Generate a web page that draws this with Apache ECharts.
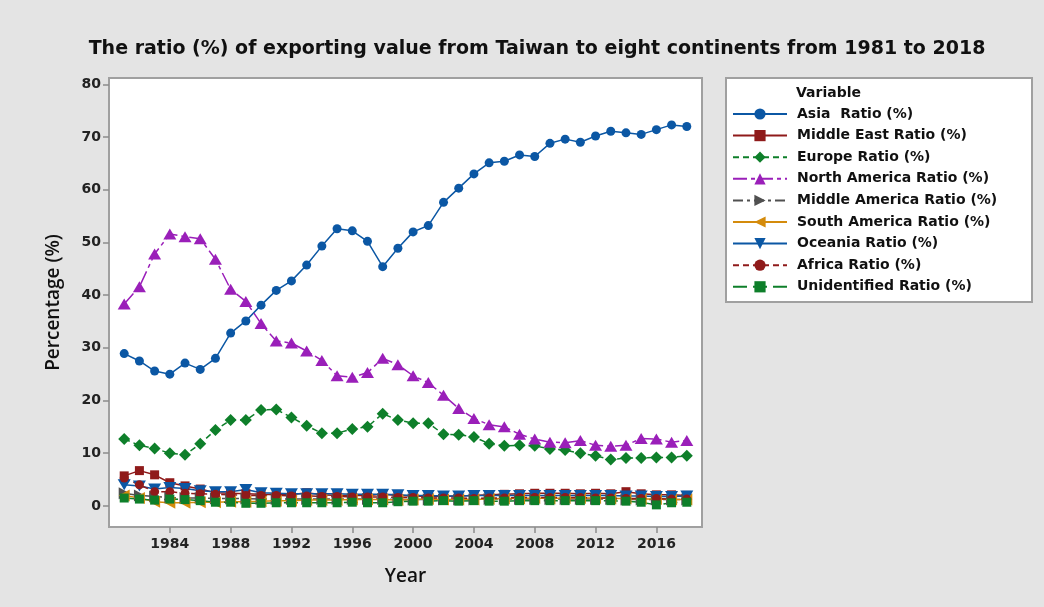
<!DOCTYPE html>
<html>
<head>
<meta charset="utf-8">
<script src="https://cdn.jsdelivr.net/npm/echarts@6/dist/echarts.min.js"></script>
<style>
  html, body { margin: 0; padding: 0; background: #e4e4e4; }
  #chart { width: 1044px; height: 607px; }
</style>
</head>
<body>
<div id="chart"></div>
<script>
const years = [1981, 1982, 1983, 1984, 1985, 1986, 1987, 1988, 1989, 1990,
  1991, 1992, 1993, 1994, 1995, 1996, 1997, 1998, 1999, 2000,
  2001, 2002, 2003, 2004, 2005, 2006, 2007, 2008, 2009, 2010,
  2011, 2012, 2013, 2014, 2015, 2016, 2017, 2018];

const asia = [28.9, 27.5, 25.6, 25.0, 27.1, 25.9, 28.0, 32.8, 35.1, 38.1,
  40.9, 42.7, 45.7, 49.3, 52.6, 52.2, 50.2, 45.4, 48.9, 52.0,
  53.2, 57.6, 60.3, 63.0, 65.1, 65.4, 66.6, 66.3, 68.8, 69.6,
  69.0, 70.2, 71.1, 70.8, 70.5, 71.4, 72.3, 72.0];
const middleEast = [5.7, 6.7, 5.9, 4.4, 3.8, 3.2, 2.5, 2.4, 2.3, 2.2,
  2.1, 2.1, 2.5, 2.1, 2.0, 2.0, 2.0, 2.2, 2.0, 1.9,
  1.8, 1.8, 1.9, 2.0, 2.1, 2.2, 2.3, 2.4, 2.4, 2.4,
  2.3, 2.4, 2.3, 2.7, 2.3, 2.1, 2.1, 2.0];
const europe = [12.7, 11.5, 10.9, 10.0, 9.7, 11.8, 14.4, 16.3, 16.3, 18.2,
  18.3, 16.8, 15.2, 13.8, 13.8, 14.6, 15.0, 17.5, 16.3, 15.7,
  15.7, 13.6, 13.5, 13.1, 11.8, 11.4, 11.5, 11.4, 10.8, 10.6,
  10.0, 9.5, 8.8, 9.1, 9.1, 9.2, 9.2, 9.5];
const northAmerica = [38.3, 41.6, 47.8, 51.6, 51.1, 50.7, 46.8, 41.1, 38.8, 34.6,
  31.3, 30.9, 29.4, 27.6, 24.7, 24.4, 25.3, 28.0, 26.8, 24.7,
  23.4, 21.0, 18.5, 16.6, 15.4, 15.0, 13.6, 12.7, 12.1, 12.0,
  12.4, 11.5, 11.3, 11.5, 12.8, 12.7, 12.1, 12.4];
const middleAmerica = [2.4, 2.0, 1.8, 1.6, 1.5, 1.5, 1.4, 1.4, 1.4, 1.3,
  1.3, 1.3, 1.3, 1.3, 1.3, 1.3, 1.3, 1.3, 1.2, 1.2,
  1.2, 1.2, 1.2, 1.2, 1.3, 1.3, 1.3, 1.3, 1.3, 1.3,
  1.3, 1.3, 1.3, 1.2, 1.2, 1.2, 1.2, 1.2];
const southAmerica = [2.0, 1.5, 0.8, 0.6, 0.6, 0.7, 0.7, 0.8, 0.8, 0.9,
  1.0, 1.0, 1.1, 1.1, 1.1, 1.2, 1.2, 1.2, 1.1, 1.2,
  1.3, 1.2, 1.2, 1.2, 1.3, 1.4, 1.4, 1.5, 1.4, 1.5,
  1.5, 1.5, 1.4, 1.4, 1.3, 1.3, 1.2, 1.2];
const oceania = [4.0, 3.8, 3.2, 3.5, 3.3, 2.9, 2.7, 2.7, 3.1, 2.5,
  2.4, 2.3, 2.3, 2.3, 2.3, 2.2, 2.2, 2.2, 2.1, 2.0,
  2.0, 1.9, 1.9, 2.0, 2.0, 2.0, 2.0, 2.0, 2.0, 2.0,
  2.0, 2.0, 2.0, 1.9, 1.9, 1.8, 1.8, 1.9];
const africa = [5.3, 4.0, 2.7, 2.7, 2.4, 2.3, 2.2, 2.1, 2.0, 2.0,
  2.0, 1.9, 1.9, 1.8, 1.8, 1.7, 1.7, 1.7, 1.6, 1.6,
  1.5, 1.5, 1.5, 1.4, 1.5, 1.5, 1.6, 1.6, 1.6, 1.6,
  1.6, 1.5, 1.5, 1.4, 1.4, 1.4, 1.3, 1.3];
const unidentified = [1.5, 1.3, 1.1, 1.3, 1.2, 1.0, 0.7, 0.7, 0.5, 0.5,
  0.6, 0.6, 0.6, 0.6, 0.6, 0.7, 0.6, 0.6, 0.8, 0.9,
  0.9, 1.0, 0.9, 1.0, 0.9, 0.9, 1.0, 1.0, 1.0, 1.0,
  1.0, 1.0, 1.0, 0.9, 0.7, 0.2, 0.6, 0.7];

const yearTicks = [1984, 1988, 1992, 1996, 2000, 2004, 2008, 2012, 2016];
const pctTicks = [0, 10, 20, 30, 40, 50, 60, 70, 80];

const FONT = '"Open Sans", "Noto Sans", sans-serif';
const WIDE = '"DejaVu Sans", sans-serif';

function pairs(values) {
  return years.map((y, i) => [y, values[i]]);
}

function makeSeries(name, values, color, symbol, size, dash) {
  return {
    name: name,
    type: 'line',
    data: pairs(values),
    symbol: symbol,
    symbolSize: size,
    showAllSymbol: true,
    animation: false,
    lineStyle: { color: color, width: 1.5, type: dash },
    itemStyle: { color: color },
    emphasis: { disabled: true }
  };
}

const RIGHT_TRI = 'path://M0,0 L10,5 L0,10 Z';
const LEFT_TRI = 'path://M10,0 L0,5 L10,10 Z';
const DOWN_TRI = 'path://M0,0 L10,0 L5,9 Z';

const series = [
  makeSeries('Asia  Ratio (%)', asia, '#0b57a4', 'circle', 9, 'solid'),
  makeSeries('Middle East Ratio (%)', middleEast, '#8f1a1a', 'rect', 9, 'solid'),
  makeSeries('Europe Ratio (%)', europe, '#0e7f2a', 'diamond', [12, 12], [6, 4]),
  makeSeries('North America Ratio (%)', northAmerica, '#9a1fb9', 'triangle', [13, 11], [14, 4, 4, 4]),
  makeSeries('Middle America Ratio (%)', middleAmerica, '#505050', RIGHT_TRI, [11, 12], [10, 4, 3, 4]),
  makeSeries('South America Ratio (%)', southAmerica, '#d48b0c', LEFT_TRI, [11, 12], 'solid'),
  makeSeries('Oceania Ratio (%)', oceania, '#0b57a4', DOWN_TRI, [13, 11], 'solid'),
  makeSeries('Africa Ratio (%)', africa, '#8f1a1a', 'circle', 9, [6, 4]),
  makeSeries('Unidentified Ratio (%)', unidentified, '#0e7f2a', 'rect', 9, [14, 6])
];

const chart = echarts.init(document.getElementById('chart'), null, { renderer: 'canvas' });
chart.setOption({
  backgroundColor: '#e4e4e4',
  animation: false,
  title: {
    text: 'The ratio (%) of exporting value from Taiwan to eight continents from 1981 to 2018',
    left: 532,
    top: 35,
    textAlign: 'center',
    textStyle: { fontFamily: WIDE, fontSize: 19, fontWeight: 'bold', color: '#111' }
  },
  grid: {
    left: 109, top: 78, right: 342, bottom: 80,
    show: true, backgroundColor: '#ffffff',
    borderColor: '#a0a0a0', borderWidth: 2
  },
  xAxis: {
    type: 'value',
    min: 1980, max: 2019,
    name: 'Year',
    nameLocation: 'middle',
    nameGap: 40,
    nameTextStyle: { fontFamily: FONT, fontSize: 19, fontWeight: 600, color: '#111' },
    axisLine: { show: false, onZero: false },
    splitLine: { show: false },
    axisTick: { show: true, length: 6, lineStyle: { color: '#8c8c8c', width: 1.5 }, customValues: yearTicks },
    axisLabel: {
      fontFamily: WIDE, fontSize: 14, fontWeight: 'bold', color: '#222', margin: 10,
      customValues: yearTicks,
      formatter: v => String(v)
    }
  },
  yAxis: {
    type: 'value',
    min: -4, max: 81.2,
    name: 'Percentage (%)',
    nameLocation: 'middle',
    nameGap: 46,
    nameRotate: 90,
    nameTextStyle: { fontFamily: FONT, fontSize: 19, fontWeight: 600, color: '#111' },
    axisLine: { show: false, onZero: false },
    splitLine: { show: false },
    axisTick: { show: true, length: 6, lineStyle: { color: '#8c8c8c', width: 1.5 }, customValues: pctTicks },
    axisLabel: {
      fontFamily: WIDE, fontSize: 14, fontWeight: 'bold', color: '#222', margin: 8,
      customValues: pctTicks,
      formatter: v => String(v)
    }
  },
  graphic: [
    {
      type: 'rect',
      shape: { x: 726, y: 78, width: 306, height: 224 },
      style: { fill: '#ffffff', stroke: '#a0a0a0', lineWidth: 2 },
      z: 0
    },
    {
      type: 'text',
      x: 796, y: 93,
      style: { text: 'Variable', font: 'bold 14px "DejaVu Sans", sans-serif', fill: '#111', textVerticalAlign: 'middle' },
      z: 1
    }
  ],
  legend: {
    orient: 'vertical',
    left: 732,
    top: 107,
    padding: 0,
    itemWidth: 54,
    itemHeight: 14,
    itemGap: 7.6,
    selectedMode: false,
    textStyle: { fontFamily: WIDE, fontSize: 14, fontWeight: 'bold', color: '#111', padding: [0, 0, 0, 5] },
    data: series.map(s => s.name)
  },
  series: series
});
</script>
</body>
</html>
